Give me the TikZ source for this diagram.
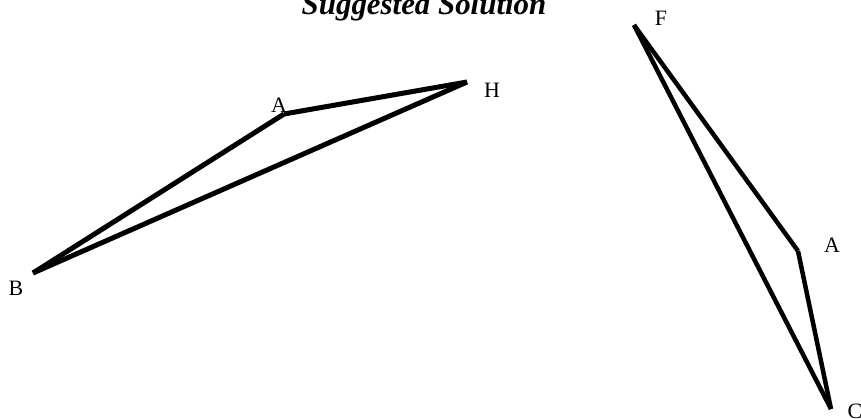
\documentclass[tikz,border=0pt]{standalone}
\usepackage{fontspec}
\setmainfont{Liberation Serif}
\begin{document}
\begin{tikzpicture}[x=1bp,y=-1bp,
  lbl/.style={inner sep=0pt, font=\fontsize{22}{22}\selectfont},
  edgeL/.style={line width=5bp, line cap=butt},
  edgeR/.style={line width=4.5bp, line cap=butt}]
\useasboundingbox (0,0) rectangle (861,418);
% title
\node[inner sep=0pt, anchor=base, font=\fontsize{31}{31}\selectfont\bfseries\itshape] (title) at (424,14) {Suggested Solution};
% left triangle
\coordinate (B) at (33,273);
\coordinate (A1) at (284,114);
\coordinate (H) at (467,82);
\draw[edgeL] (B) -- (A1);
\draw[edgeL] (A1) -- (H);
\draw[edgeL] (H) -- (B);
\node[lbl] (lB) at (16,288) {B};
\node[lbl] (lA1) at (279,105) {A};
\node[lbl] (lH) at (492,90) {H};
% right triangle
\coordinate (F) at (634,25);
\coordinate (A2) at (798,251);
\coordinate (C) at (831,409);
\draw[edgeR] (F) -- (A2);
\draw[edgeR] (A2) -- (C);
\draw[edgeR] (C) -- (F);
\node[lbl] (lF) at (661,18) {F};
\node[lbl] (lA2) at (832,245) {A};
\node[lbl] (lC) at (855,411) {C};
\end{tikzpicture}
\end{document}
